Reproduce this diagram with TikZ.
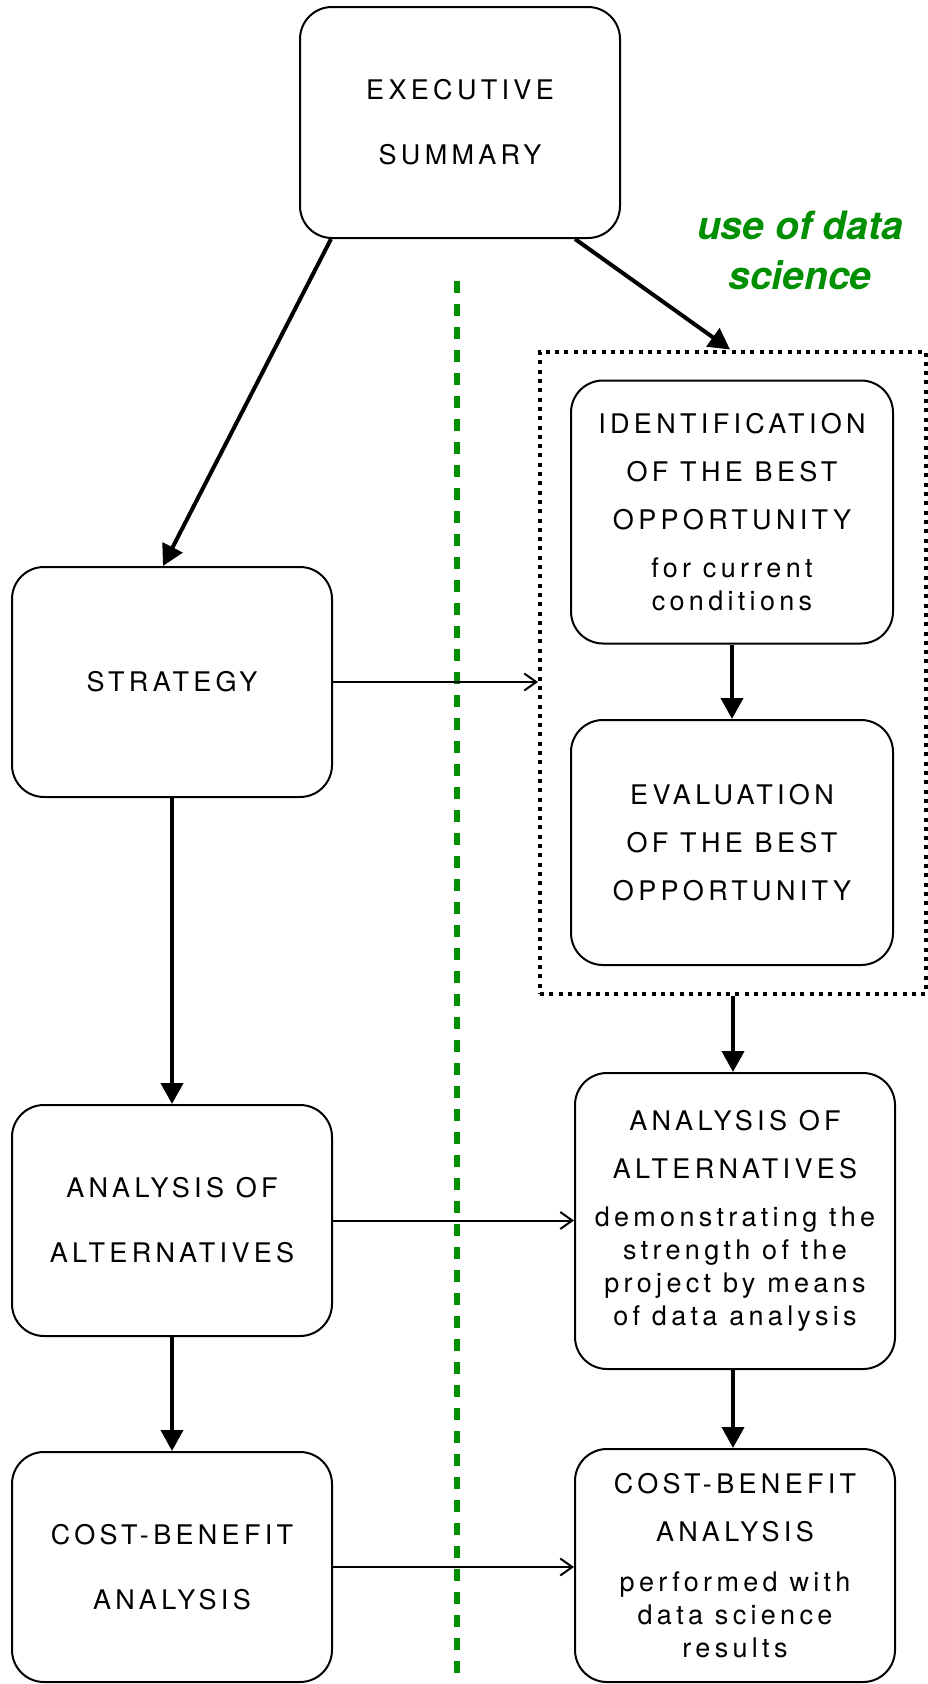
\documentclass[tikz,border=0pt]{standalone}
\usepackage{fontspec}
\setmainfont{TeX Gyre Heros}
\newfontfamily\boxfont[LetterSpace=16]{TeX Gyre Heros}
\usetikzlibrary{arrows.meta}
\definecolor{dsgreen}{RGB}{0,143,0}
\newcommand\boxtext{\boxfont\fontsize{27}{33}\selectfont}
\begin{document}
\begin{tikzpicture}[x=1pt,y=-1pt,
  box/.style={draw, line width=2pt, rounded corners=32pt, inner sep=0pt,
    align=center, font=\boxtext, minimum width=320pt},
  dotbox/.style={draw, line width=4pt, dash pattern=on 4pt off 5.3pt,
    inner sep=0pt, minimum width=386pt, minimum height=642pt},
  thickarrow/.style={line width=4pt, -{Triangle[length=21pt,width=22pt]}},
  thinarrow/.style={line width=2pt, -{Straight Barb[length=12pt,width=17pt,line width=2pt]}},
  divider/.style={dsgreen, line width=6pt, dash pattern=on 12pt off 11pt},
  greenlabel/.style={dsgreen, align=center, inner sep=0pt,
    font=\bfseries\itshape\fontsize{39}{50}\selectfont}]
\useasboundingbox (0,0) rectangle (927,1684);

% dotted group box
\node[dotbox] (grp) at (733,672.5) {};

% boxes
\node[box, minimum height=231pt] (exec) at (460,122.5) {EXECUTIVE\\[32pt]SUMMARY};
\node[box, minimum height=230pt] (strat) at (172,682) {STRATEGY};
\node[box, minimum height=231pt] (anl) at (172,1220.5) {ANALYSIS OF\\[32pt]ALTERNATIVES};
\node[box, minimum height=230pt] (cbl) at (172,1567) {COST-BENEFIT\\[32pt]ANALYSIS};

\node[box, minimum width=322pt, minimum height=263pt] (ident) at (732,512)
  {IDENTIFICATION\\[15pt]OF THE BEST\\[15pt]OPPORTUNITY\\[15pt]for current\\conditions};
\node[box, minimum width=322pt, minimum height=245pt] (eval) at (732,842.5)
  {EVALUATION\\[15pt]OF THE BEST\\[15pt]OPPORTUNITY};
\node[box, minimum height=296pt] (anr) at (735,1221)
  {ANALYSIS OF\\[15pt]ALTERNATIVES\\[15pt]demonstrating the\\strength of the\\project by means\\of data analysis};
\node[box, minimum height=233pt] (cbr) at (735,1565.5)
  {COST-BENEFIT\\[15pt]ANALYSIS\\[17pt]performed with\\data science\\results};

% green label and divider
\node[greenlabel] (lbl) at (800,250) {use of data\\science};
\coordinate (g1) at (457,281);
\coordinate (g2) at (457,1674);
\draw[divider] (g1) -- (g2);

% connectors
\draw[thickarrow] ([xshift=-129pt]exec.south) -- ([xshift=-9pt]strat.north);
\draw[thickarrow] ([xshift=115pt]exec.south) -- ([xshift=-3pt]grp.north);
\draw[thinarrow] (strat.east) -- (strat.east -| grp.west);
\draw[thickarrow] (ident.south) -- (eval.north);
\draw[thickarrow] (grp.south) -- (grp.south |- anr.north);
\draw[thickarrow] (strat.south) -- (anl.north);
\draw[thickarrow] (anl.south) -- (cbl.north);
\draw[thickarrow] (anr.south -| grp.south) -- (cbr.north -| grp.south);
\draw[thinarrow] (anl.east) -- (anl.east -| anr.west);
\draw[thinarrow] (cbl.east) -- (cbl.east -| cbr.west);
\end{tikzpicture}
\end{document}
